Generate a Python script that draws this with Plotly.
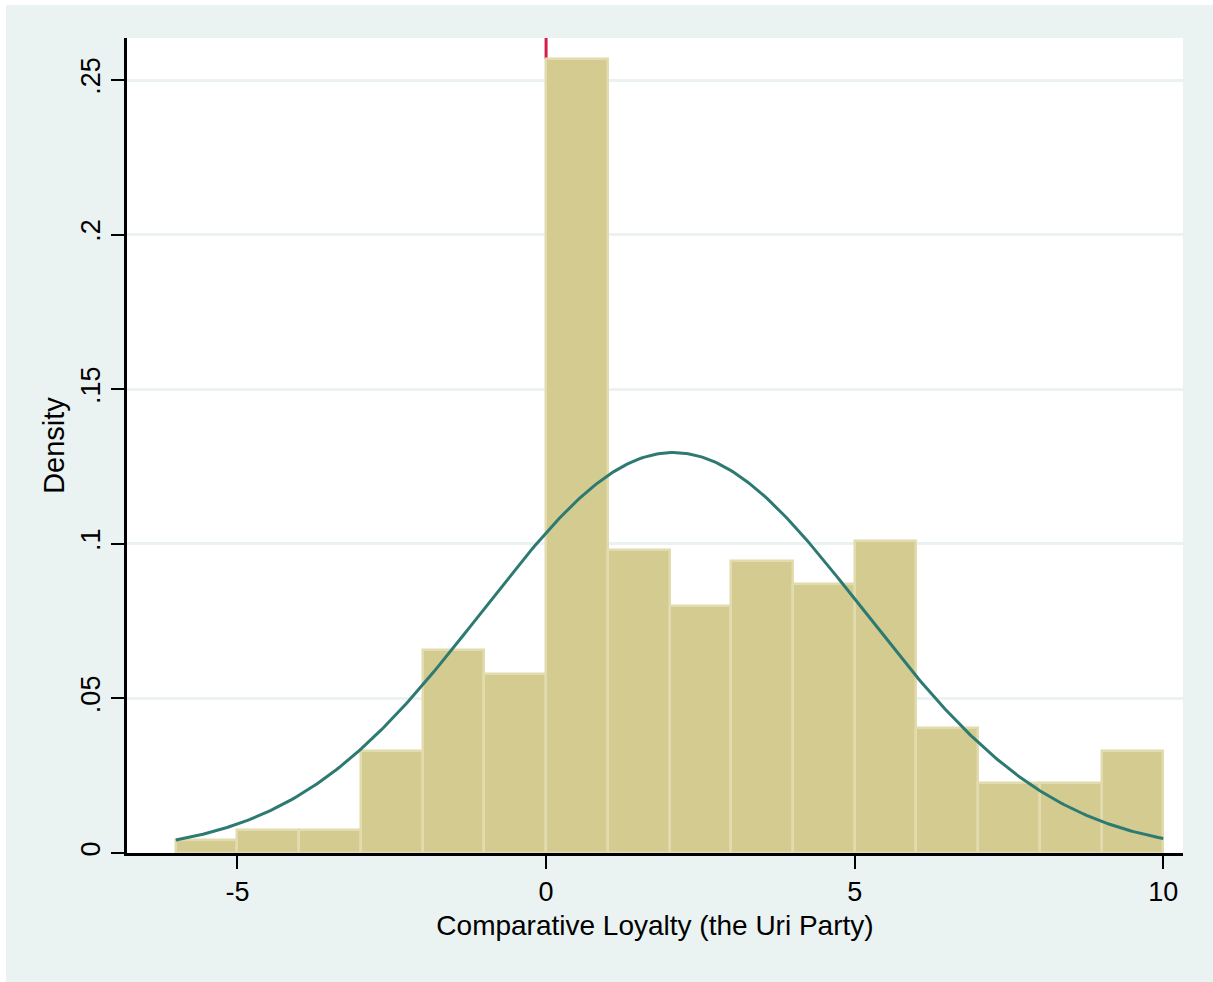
import numpy as np
import plotly.graph_objects as go

# Histogram bins (left edges, width 1) and densities
bin_left = [-6, -5, -4, -3, -2, -1, 0, 1, 2, 3, 4, 5, 6, 7, 8, 9]
bin_width = 1.0
density = [0.0042, 0.0074, 0.0074, 0.033, 0.0657, 0.058, 0.2568, 0.098,
           0.080, 0.0944, 0.087, 0.101, 0.0404, 0.0226, 0.0226, 0.033]

# Fitted normal curve parameters
norm_mean = 2.06
norm_sd = 3.08
curve_xmin, curve_xmax = -6, 10

# Reference line
ref_x = 0

x_ticks = [-5, 0, 5, 10]
x_ticktext = ["-5", "0", "5", "10"]
y_ticks = [0, 0.05, 0.1, 0.15, 0.2, 0.25]
y_ticktext = ["0", ".05", ".1", ".15", ".2", ".25"]

x_title = "Comparative Loyalty (the Uri Party)"
y_title = "Density"

W, H = 1213, 982
ML, MR, MT, MB = 127, 30, 38, 129
PW, PH = W - ML - MR, H - MT - MB

BG = "#eaf3f2"
FONT = "Liberation Sans, Arial, sans-serif"

centers = [b + bin_width / 2 for b in bin_left]
xs = np.linspace(curve_xmin, curve_xmax, 400)
ys = np.exp(-0.5 * ((xs - norm_mean) / norm_sd) ** 2) / (norm_sd * np.sqrt(2 * np.pi))

# height of the bar whose left edge sits on the reference line
ref_bar_top = density[bin_left.index(ref_x)]

fig = go.Figure()
fig.add_trace(go.Bar(
    x=centers, y=density, width=bin_width,
    marker=dict(color="#d3cb90", line=dict(color="#e2dbad", width=2.5)),
    showlegend=False, hoverinfo="x+y",
))
fig.add_trace(go.Scatter(
    x=xs, y=ys, mode="lines",
    line=dict(color="#2d7a72", width=3),
    showlegend=False,
))

shapes = [
    # white strips on left/top edges of the page
    dict(type="rect", xref="paper", yref="paper", layer="below",
         x0=-ML / PW, x1=(-ML + 6) / PW, y0=-MB / PH, y1=1 + MT / PH,
         fillcolor="white", line=dict(width=0)),
    dict(type="rect", xref="paper", yref="paper", layer="below",
         x0=-ML / PW, x1=1 + MR / PW, y0=1 + (MT - 5) / PH, y1=1 + MT / PH,
         fillcolor="white", line=dict(width=0)),
    # red reference line at x = 0 (visible only above the bar)
    dict(type="line", xref="x", yref="y", layer="below",
         x0=ref_x, x1=ref_x, y0=ref_bar_top, y1=0.2636,
         line=dict(color="#d3204b", width=3)),
]

fig.update_layout(
    width=W, height=H,
    margin=dict(l=ML, r=MR, t=MT, b=MB),
    paper_bgcolor=BG, plot_bgcolor="white",
    font=dict(family=FONT, color="black", size=27),
    bargap=0,
    shapes=shapes,
    xaxis=dict(
        range=[-6.79, 10.32], tickvals=x_ticks, ticktext=x_ticktext,
        ticks="outside", ticklen=13,
        tickwidth=2, tickcolor="black", showline=True, linecolor="black",
        linewidth=2.5, showgrid=False, zeroline=False,
        tickfont=dict(size=27, family=FONT),
        title=dict(text=x_title, font=dict(size=28, family=FONT), standoff=10),
    ),
    yaxis=dict(
        range=[0, 0.2636], tickvals=y_ticks, ticktext=y_ticktext,
        ticks="outside", ticklen=13, tickwidth=2, tickcolor="black",
        tickangle=-90, showline=True, linecolor="black", linewidth=2.5,
        showgrid=True, gridcolor=BG, gridwidth=3, zeroline=False,
        tickfont=dict(size=27, family=FONT),
        title=dict(text=y_title, font=dict(size=29, family=FONT), standoff=4),
    ),
)

fig.write_html("out.html")
